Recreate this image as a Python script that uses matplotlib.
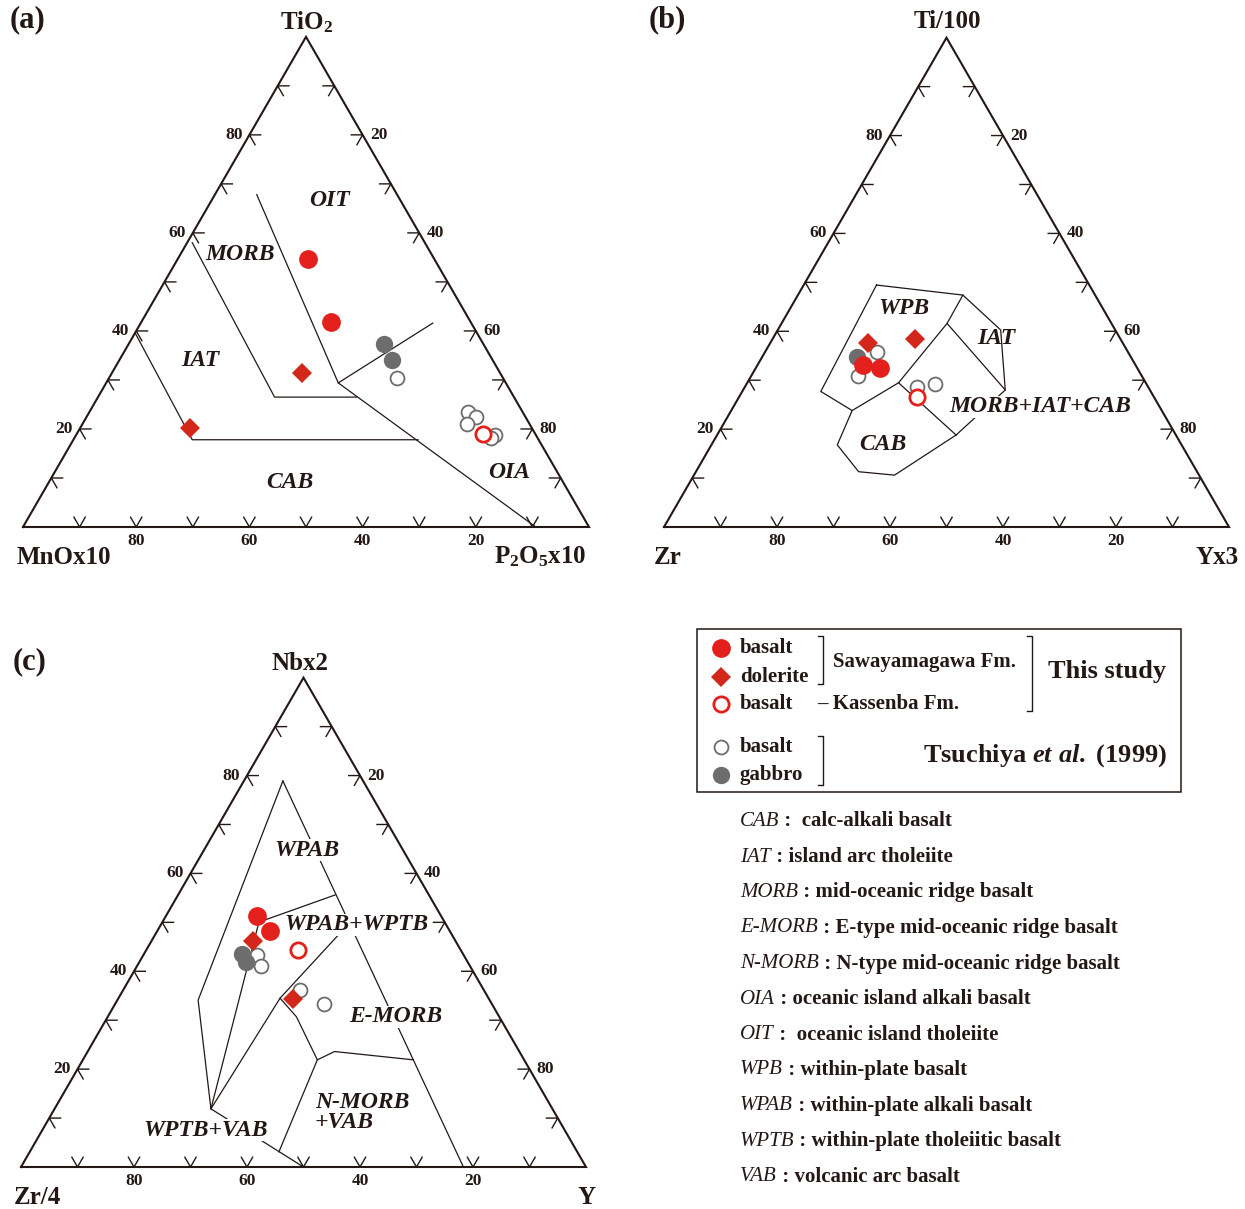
import matplotlib
matplotlib.use("Agg")
import matplotlib.pyplot as plt
from matplotlib.patches import Rectangle
import numpy as np

plt.rcParams['font.family'] = ['Liberation Serif', 'DejaVu Serif']
plt.rcParams['font.weight'] = 'bold'
plt.rcParams['mathtext.fontset'] = 'custom'
plt.rcParams['mathtext.rm'] = 'Liberation Serif:bold'
plt.rcParams['mathtext.bf'] = 'Liberation Serif:bold'
plt.rcParams['mathtext.it'] = 'Liberation Serif:italic:bold'

INK = '#231815'
RED = '#e3201b'
RED_DIA = '#d4271c'
GRAY = '#6d6d6d'

# compositions are (top, left, right) in percent

# (a) TiO2 - MnOx10 - P2O5x10
a_saw_basalt = [(54.7, 22.3, 23.0), (41.8, 24.7, 33.5)]
a_saw_dolerite = [(31.4, 35.0, 33.6), (20.2, 60.4, 19.4)]
a_kas_basalt = [(19.0, 9.2, 71.8)]
a_tsu_basalt = [(30.4, 18.7, 50.9), (23.5, 9.6, 66.9), (22.4, 8.8, 68.8),
                (21.0, 11.1, 67.9), (18.8, 7.2, 74.0), (18.2, 8.2, 73.6)]
a_tsu_gabbro = [(37.3, 17.6, 45.1), (34.1, 17.7, 48.2)]
a_fields = [
    [(58.0, 41.1, 0.9), (26.5, 42.3, 31.2), (26.5, 27.8, 45.7)],
    [(39.6, 60.4, 0.0), (17.8, 61.2, 21.0), (17.8, 21.3, 60.9)],
    [(67.8, 24.8, 7.4), (29.4, 29.6, 41.0), (0.0, 9.4, 90.6)],
    [(29.4, 29.6, 41.0), (41.6, 6.8, 51.6)],
]

# (b) Ti/100 - Zr - Yx3
b_saw_basalt = [(33.1, 48.2, 18.7), (32.5, 45.5, 22.0)]
b_saw_dolerite = [(37.6, 45.1, 17.3), (38.4, 36.4, 25.2)]
b_kas_basalt = [(26.6, 41.9, 31.5)]
b_tsu_basalt = [(35.8, 44.4, 19.8), (30.9, 50.2, 18.9), (28.6, 40.9, 30.5), (29.2, 37.4, 33.4)]
b_tsu_gabbro = [(34.7, 48.5, 16.8)]
b_fields = [
    [(49.5, 37.7, 12.9), (47.4, 23.4, 29.2), (41.6, 29.1, 29.3), (29.5, 43.8, 26.8),
     (23.8, 54.8, 21.4), (27.7, 58.4, 13.9), (49.5, 37.7, 12.9)],
    [(47.4, 23.4, 29.2), (40.3, 20.3, 39.5), (28.0, 25.6, 46.4), (41.6, 29.1, 29.3)],
    [(28.0, 25.6, 46.4), (18.8, 38.9, 42.3)],
    [(29.5, 43.8, 26.8), (18.8, 38.9, 42.3)],
    [(23.8, 54.8, 21.4), (16.8, 61.0, 22.3), (11.3, 59.9, 28.8), (10.6, 53.9, 35.5),
     (18.8, 38.9, 42.3)],
]

# (c) Nbx2 - Zr/4 - Y
c_saw_basalt = [(51.3, 32.6, 16.1), (48.2, 31.8, 20.0)]
c_saw_dolerite = [(46.2, 35.8, 18.0), (34.3, 34.7, 31.0)]
c_kas_basalt = [(44.3, 28.8, 26.9)]
c_tsu_basalt = [(43.3, 36.6, 20.1), (41.1, 37.0, 21.9), (36.2, 32.5, 31.3), (33.3, 29.7, 37.0)]
c_tsu_gabbro = [(43.5, 39.1, 17.4), (41.9, 39.2, 18.9)]
c_fields = [
    [(78.9, 14.2, 6.9), (34.1, 51.6, 14.3), (11.9, 60.5, 27.7), (0.0, 50.0, 50.0)],
    [(78.9, 14.2, 6.9), (0.0, 21.7, 78.3)],
    [(55.6, 16.6, 27.8), (50.1, 32.9, 17.1), (11.9, 60.5, 27.7)],
    [(11.9, 60.5, 27.7), (34.5, 36.9, 28.6), (49.9, 16.9, 33.2)],
    [(34.5, 36.9, 28.6), (30.7, 35.9, 33.4), (21.9, 36.6, 41.5), (3.1, 52.8, 44.1)],
    [(21.9, 36.6, 41.5), (23.6, 32.7, 43.7), (21.9, 19.6, 58.5)],
]

legend_rocks = ['basalt', 'dolerite', 'basalt', 'basalt', 'gabbro']
abbr_terms = ['CAB', 'IAT', 'MORB', 'E-MORB', 'N-MORB', 'OIA', 'OIT', 'WPB', 'WPAB', 'WPTB', 'VAB']
abbr_descs = [' :  calc-alkali basalt', ' : island arc tholeiite', ' : mid-oceanic ridge basalt',
              ' : E-type mid-oceanic ridge basalt', ' : N-type mid-oceanic ridge basalt',
              ' : oceanic island alkali basalt', ' :  oceanic island tholeiite',
              ' : within-plate basalt', ' : within-plate alkali basalt',
              ' : within-plate tholeiitic basalt', ' : volcanic arc basalt']

STYLES = {
    'tsu_basalt': dict(marker='o', ms=10, mfc='white', mec=GRAY, mew=1.3, zorder=3),
    'tsu_gabbro': dict(marker='o', ms=12.5, mfc=GRAY, mec=GRAY, mew=0, zorder=4),
    'kas_basalt': dict(marker='o', ms=11, mfc='white', mec=RED, mew=2.0, zorder=5),
    'saw_dolerite': dict(marker='D', ms=10.5, mfc=RED_DIA, mec=RED_DIA, mew=0, zorder=5),
    'saw_basalt': dict(marker='o', ms=13.5, mfc=RED, mec=RED, mew=0, zorder=5),
}

W, H = 1245, 1209
R3 = np.sqrt(3) / 2
fig = plt.figure(figsize=(W / 100, H / 100), dpi=100)


def tern(comps):
    c = np.asarray(comps, dtype=float)
    c = 100 * c / c.sum(axis=1, keepdims=True)
    return c[:, 2] + c[:, 0] / 2, c[:, 0] * R3


def make_panel(bx, by, side):
    ax = fig.add_axes([bx / W, (H - by) / H, side / W, side * R3 / H])
    ax.set_xlim(0, 100)
    ax.set_ylim(0, 100 * R3)
    ax.axis('off')
    ax.plot([0, 100, 50, 0], [0, 0, 100 * R3, 0], color=INK, lw=1.5,
            solid_joinstyle='miter', clip_on=False, zorder=2)
    s = 2.0
    tick = dict(color=INK, lw=1.0, clip_on=False, zorder=2)
    for i in range(1, 10):
        f = i / 10
        lx, ly = 50 * f, 100 * R3 * f
        rx, ry = 50 + 50 * f, 100 * R3 * (1 - f)
        bx_ = 100 * f
        ax.plot([lx + s, lx, lx + s / 2], [ly, ly, ly - s * R3], **tick)
        ax.plot([rx - s, rx, rx - s / 2], [ry, ry, ry - s * R3], **tick)
        ax.plot([bx_ - s / 2, bx_, bx_ + s / 2], [s * R3, 0, s * R3], **tick)
        if i % 2 == 0:
            ax.text(lx - 1.2, ly, str(i * 10), ha='right', va='center', fontsize=12.5, color=INK)
            ax.text(rx + 1.3, ry, str(i * 10), ha='left', va='center', fontsize=12.5, color=INK)
            ax.text(bx_, -2.5, str(100 - i * 10), ha='center', va='center', fontsize=12.5, color=INK)
    # helper to place labels by pixel position
    k = side / 100
    ax.px = lambda px, py: ((px - bx) / k, (by - py) / k)
    return ax


def draw_fields(ax, fields):
    for line in fields:
        x, y = tern(line)
        ax.plot(x, y, color=INK, lw=0.9, zorder=1, clip_on=False)


def draw_points(ax, groups):
    for name, comps in groups.items():
        x, y = tern(comps)
        ax.plot(x, y, ls='none', clip_on=False, **STYLES[name])


def region(ax, px, py, label, box=False, ha='center'):
    kw = dict(ha=ha, va='center', fontsize=17, style='italic', weight='bold',
              color=INK, zorder=2.5)
    if box:
        kw['bbox'] = dict(facecolor='white', edgecolor='none', pad=0.5)
    ax.text(*ax.px(px, py), label, **kw)


# panel (a)
axa = make_panel(23, 527, 566)
draw_fields(axa, a_fields)
draw_points(axa, {'tsu_basalt': a_tsu_basalt, 'tsu_gabbro': a_tsu_gabbro,
                  'kas_basalt': a_kas_basalt, 'saw_dolerite': a_saw_dolerite,
                  'saw_basalt': a_saw_basalt})
region(axa, 329, 200, 'OIT')
region(axa, 240.5, 254, 'MORB')
region(axa, 200, 360, 'IAT')
region(axa, 289.5, 483, 'CAB')
region(axa, 509, 473, 'OIA')

# panel (b)
axb = make_panel(664, 527, 565)
draw_fields(axb, b_fields)
draw_points(axb, {'tsu_basalt': b_tsu_basalt, 'tsu_gabbro': b_tsu_gabbro,
                  'kas_basalt': b_kas_basalt, 'saw_dolerite': b_saw_dolerite,
                  'saw_basalt': b_saw_basalt})
region(axb, 904, 308, 'WPB')
region(axb, 996, 338, 'IAT')
region(axb, 1040, 407, 'MORB+IAT+CAB', box=True)
region(axb, 883, 445, 'CAB')

# panel (c)
axc = make_panel(21, 1167, 565)
draw_fields(axc, c_fields)
draw_points(axc, {'tsu_basalt': c_tsu_basalt, 'tsu_gabbro': c_tsu_gabbro,
                  'kas_basalt': c_kas_basalt, 'saw_dolerite': c_saw_dolerite,
                  'saw_basalt': c_saw_basalt})
region(axc, 307, 850, 'WPAB', box=True)
region(axc, 356.5, 925, 'WPAB+WPTB', box=True)
region(axc, 396, 1017, 'E-MORB', box=True)
region(axc, 315, 1103, 'N-MORB', ha='left')
region(axc, 315, 1123, '+VAB', ha='left')
region(axc, 205.5, 1130, 'WPTB+VAB', box=True)

# overlay in pixel coordinates for titles, legend and key
ov = fig.add_axes([0, 0, 1, 1])
ov.set_xlim(0, W)
ov.set_ylim(H, 0)
ov.axis('off')

for px, py, s in [(27.5, 20, '(a)'), (667, 20, '(b)'), (29.5, 662, '(c)')]:
    ov.text(px, py, s, ha='center', va='center', fontsize=22, color=INK)

vert = dict(ha='center', va='center', fontsize=18, color=INK)
ov.text(306.5, 22, r'TiO$_2$', **vert)
ov.text(63.5, 557, 'MnOx10', **vert)
ov.text(540, 557, r'P$_2$O$_5$x10', **vert)
ov.text(947.5, 22, 'Ti/100', **vert)
ov.text(668, 557, 'Zr', **vert)
ov.text(1217, 557, 'Yx3', **vert)
ov.text(300, 663, 'Nbx2', **vert)
ov.text(37, 1197, 'Zr/4', **vert)
ov.text(587, 1197, 'Y', **vert)

# legend box
ov.add_patch(Rectangle((697, 629), 484, 163, fill=False, edgecolor=INK, lw=1.1))
leg_keys = ['saw_basalt', 'saw_dolerite', 'kas_basalt', 'tsu_basalt', 'tsu_gabbro']
leg_y = [648, 676.5, 704, 746.5, 775]
for key, rock, y in zip(leg_keys, legend_rocks, leg_y):
    ov.plot([721], [y], ls='none', **STYLES[key])
    ov.text(740, y, rock, ha='left', va='center', fontsize=15, color=INK)

bracket = dict(color=INK, lw=1.0)
ov.plot([818, 823, 823, 818], [636, 636, 684, 684], **bracket)
ov.plot([1027, 1032, 1032, 1027], [636, 636, 711, 711], **bracket)
ov.plot([818, 823, 823, 818], [736, 736, 785, 785], **bracket)
ov.text(833, 661.5, 'Sawayamagawa Fm.', ha='left', va='center', fontsize=15, color=INK)
ov.text(817, 704, '– Kassenba Fm.', ha='left', va='center', fontsize=15, color=INK)
ov.text(1048, 671.5, 'This study', ha='left', va='center', fontsize=19, color=INK)
ov.text(1167, 756, r'Tsuchiya $\mathit{et\ al.}$ (1999)', ha='right', va='center',
        fontsize=19, color=INK)

# abbreviation key
for i, (term, desc) in enumerate(zip(abbr_terms, abbr_descs)):
    t = ov.text(740, 821.5 + 35.5 * i, term, ha='left', va='center', fontsize=15,
                style='italic', weight='normal', color=INK)
    ov.annotate(desc, xy=(1, 0.5), xycoords=t, ha='left', va='center', fontsize=15, color=INK)

fig.savefig('out.png', dpi=100)
